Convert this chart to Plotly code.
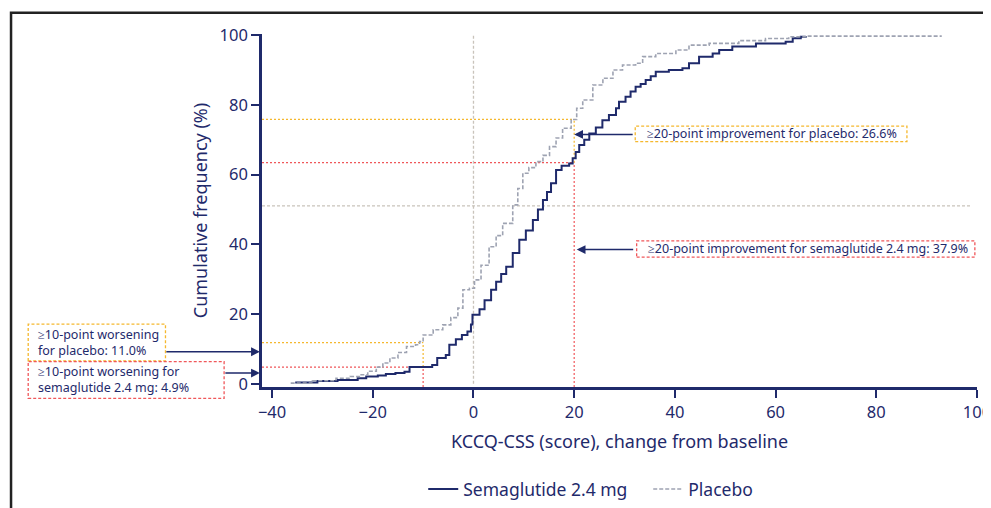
import plotly.graph_objects as go

# cumulative distribution (change from baseline, %)
sema_x = [-35.4, -31, -27, -23, -21.3, -19, -17.4, -15.5, -13.7, -12.7, -9.4, -8.2, -7.2, -5.5,
          -4.8, -3.5, -2.3, -1.2, -0.5, -0.2, 1.2, 2.2, 3.5, 4.5, 5.5, 6.5, 7.8, 9.1, 10.4, 11.8,
          12.8, 13.8, 14.6, 15.4, 16.4, 17.5, 19.0, 19.7, 20.3, 21, 22, 23, 24.3, 25.6, 26.9, 28.3,
          28.9, 30.2, 31.2, 32.2, 33.2, 34.2, 35.2, 36.2, 38.8, 41.5, 42.8, 44.8, 47.5, 48.8, 51.4,
          56.1, 62, 63.4, 65, 66]
sema_y = [0.4, 0.8, 1.1, 1.6, 2.1, 2.4, 2.8, 3.1, 3.5, 4.8, 4.8, 5.4, 7.4, 8.3,
          11.2, 12.8, 14, 15, 17, 19.8, 21.4, 24, 27, 29.3, 31.5, 33.6, 37.5, 41.3, 44, 47,
          50, 52.7, 55, 57.5, 61.3, 62.5, 63.2, 64.7, 66.5, 68.5, 70, 71.8, 73.5, 75.6, 77.1, 79,
          80.9, 82.3, 83.8, 85.2, 86, 87.1, 88.2, 89.5, 90, 90.5, 91.9, 93.8, 94.7, 95.7, 96.7,
          97.6, 98.1, 99.1, 99.5, 99.7]

plac_x = [-36.3, -32, -27.3, -24.5, -22.5, -21, -19.3, -18, -16.6, -15, -13.3, -11.5, -10.7, -10,
          -8, -6.1, -4.5, -3.1, -2.1, -0.8, 0.2, 1.5, 3.1, 4.5, 5.8, 7.8, 8.8, 9.8, 11, 12.4,
          13.8, 15.1, 16.4, 17.7, 19.4, 20.5, 21.7, 23.7, 25.7, 27.7, 29.6, 32.2, 33.6, 36.2, 40.2,
          42.8, 46.8, 52.7, 58, 62.6, 66, 93]
plac_y = [0.2, 0.9, 1.6, 2.1, 2.6, 3.6, 4.8, 6, 7.4, 9, 10.7, 11.2, 12.1, 14,
          15.5, 16.9, 19, 21.7, 27, 27.4, 29.8, 34, 39.3, 42.5, 46, 51.3, 56, 60.4, 62, 63.7,
          65.5, 68, 70.5, 73.3, 75.8, 79, 81.4, 85.7, 87.6, 90, 91.4, 91.9, 93.8, 94.7, 95.7,
          97.1, 97.6, 98.4, 99, 99.5, 99.7, 99.7]

thresholds = [-10, 20]
sema_at = [4.8, 63.4]
plac_at = [11.8, 75.8]
mid_line = 51

x_ticks = [-40, -20, 0, 20, 40, 60, 80, 100]
y_ticks = [0, 20, 40, 60, 80, 100]

navy = "#1f2a6b"
grey = "#9ea3b2"
refgrey = "#c9c3bb"
yellow = "#f5b82e"
red = "#f0575a"
font = "Noto Sans"
XMIN, YMIN = -42, -0.9

fig = go.Figure()
fig.add_trace(go.Scatter(x=sema_x, y=sema_y, mode="lines", line_shape="hv",
                         line=dict(color=navy, width=2), name="Semaglutide 2.4 mg"))
fig.add_trace(go.Scatter(x=plac_x, y=plac_y, mode="lines", line_shape="hv",
                         line=dict(color=grey, width=1.6, dash="4px,2px"), name="Placebo"))

shapes = []
dot = "3px,2px"
# reference lines
shapes.append(dict(type="line", x0=0, x1=0, y0=0, y1=100, line=dict(color=refgrey, width=1.3, dash=dot)))
shapes.append(dict(type="line", x0=XMIN, x1=99, y0=mid_line, y1=mid_line, line=dict(color=refgrey, width=1.3, dash=dot)))
for t, s, p in zip(thresholds, sema_at, plac_at):
    shapes.append(dict(type="line", x0=XMIN, x1=t, y0=p, y1=p, line=dict(color=yellow, width=1.2, dash="2px,2px")))
    shapes.append(dict(type="line", x0=t, x1=t, y0=s, y1=p, line=dict(color=yellow, width=1.2, dash="2px,2px")))
    shapes.append(dict(type="line", x0=XMIN, x1=t, y0=s, y1=s, line=dict(color=red, width=1.2, dash="2px,2px")))
    shapes.append(dict(type="line", x0=t, x1=t, y0=YMIN, y1=s, line=dict(color=red, width=1.2, dash="2px,2px")))
for sh in shapes:
    sh.update(xref="x", yref="y", layer="below")

# annotation boxes (paper coords)
boxes = [
    (0.522, 0.902, 0.695, 0.739, yellow),
    (0.524, 0.997, 0.368, 0.414, red),
    (-0.327, -0.135, 0.074, 0.178, yellow),
    (-0.327, -0.053, -0.032, 0.072, red),
]
for x0, x1, y0, y1, c in boxes:
    shapes.append(dict(type="rect", xref="paper", yref="paper", x0=x0, x1=x1, y0=y0, y1=y1,
                       line=dict(color=c, width=1.3, dash="3px,2px"), fillcolor="rgba(0,0,0,0)"))

# outer frame
shapes.append(dict(type="rect", xref="paper", yref="paper", x0=-0.351, x1=1.2, y0=-0.6, y1=1.06,
                   line=dict(color="#222222", width=2.5), fillcolor="rgba(0,0,0,0)"))

afont = dict(family=font, size=12.5, color=navy)
annotations = [
    dict(xref="paper", yref="paper", x=0.535, y=0.717, text="≥20-point improvement for placebo: 26.6%",
         showarrow=False, xanchor="left", yanchor="middle", font=afont),
    dict(xref="paper", yref="paper", x=0.537, y=0.391, text="≥20-point improvement for semaglutide 2.4 mg: 37.9%",
         showarrow=False, xanchor="left", yanchor="middle", font=afont),
    dict(xref="paper", yref="paper", x=-0.316, y=0.126, text="≥10-point worsening<br>for placebo: 11.0%",
         showarrow=False, xanchor="left", yanchor="middle", align="left", font=afont),
    dict(xref="paper", yref="paper", x=-0.316, y=0.020, text="≥10-point worsening for<br>semaglutide 2.4 mg: 4.9%",
         showarrow=False, xanchor="left", yanchor="middle", align="left", font=afont),
    # arrows
    dict(x=20, y=71.5, xref="x", yref="y", ax=60, ay=0, text="", showarrow=True, arrowhead=2,
         arrowsize=1.1, arrowwidth=1.6, arrowcolor=navy),
    dict(x=20.5, y=38.5, xref="x", yref="y", ax=58, ay=0, text="", showarrow=True, arrowhead=2,
         arrowsize=1.1, arrowwidth=1.6, arrowcolor=navy),
    dict(x=-0.003, y=9.2, xref="paper", yref="y", ax=-95, ay=0, text="", showarrow=True, arrowhead=2,
         arrowsize=1.1, arrowwidth=1.6, arrowcolor=navy),
    dict(x=-0.003, y=3.1, xref="paper", yref="y", ax=-36, ay=0, text="", showarrow=True, arrowhead=2,
         arrowsize=1.1, arrowwidth=1.6, arrowcolor=navy),
]

axis_common = dict(showline=True, linecolor=navy, linewidth=2.5, ticks="outside", ticklen=8,
                   tickwidth=2, tickcolor=navy, showgrid=False, zeroline=False, automargin=False,
                   ticklabeloverflow="allow",
                   tickfont=dict(family=font, size=16.5, color=navy))

fig.update_layout(
    width=991, height=508,
    margin=dict(l=254, r=22, t=26, b=129),
    paper_bgcolor="white", plot_bgcolor="rgba(0,0,0,0)",
    font=dict(family=font, color=navy),
    xaxis=dict(range=[XMIN, 100], tickvals=x_ticks, **axis_common,
               title=dict(text="KCCQ-CSS (score), change from baseline",
                          font=dict(family=font, size=18, color=navy), standoff=14)),
    yaxis=dict(range=[YMIN, 100.3], tickvals=y_ticks, **axis_common,
               title=dict(text="Cumulative frequency (%)",
                          font=dict(family=font, size=18, color=navy), standoff=8)),
    legend=dict(orientation="h", xref="container", yref="container", x=0.419, y=0.053,
                xanchor="left", yanchor="middle", entrywidth=180, entrywidthmode="pixels",
                font=dict(family=font, size=17.5, color=navy), bgcolor="rgba(0,0,0,0)"),
    shapes=shapes, annotations=annotations,
)

fig.write_html("out.html")
